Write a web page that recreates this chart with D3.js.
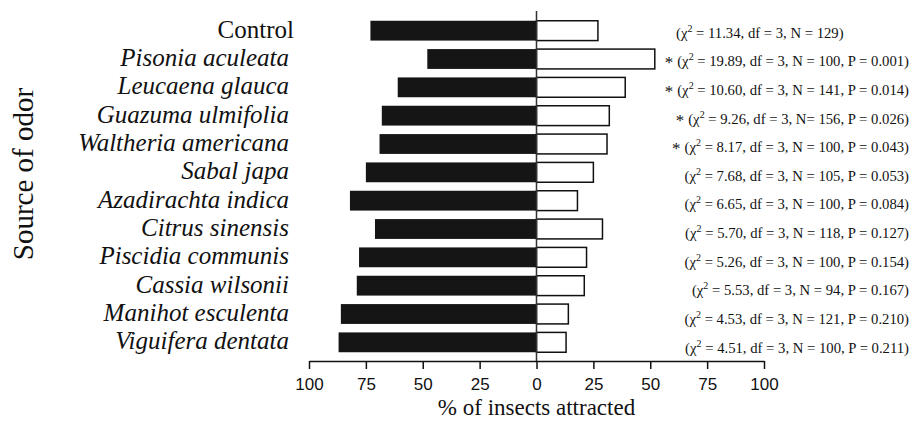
<!doctype html>
<html lang="en">
<head>
  <meta charset="utf-8">
  <title>Source of odor</title>
  <style>
    body { margin: 0; background: #fff; }
    svg { display: block; }
    text { font-family: "Times New Roman", Times, "Liberation Serif", serif; fill: #111; }
    .tick text { font-family: Arial, Helvetica, "Liberation Sans", sans-serif; font-size: 17px; fill: #111; }
    .tick line, .domain { stroke: #111; stroke-width: 1.5; }
    .bar-left { fill: #151515; }
    .bar-right { fill: #fff; stroke: #111; stroke-width: 1.5; }
  </style>
</head>
<body>
  <script src="https://cdn.jsdelivr.net/npm/d3@7"></script>
  <script>
(function() {

var categories = ["Control", "Pisonia aculeata", "Leucaena glauca", "Guazuma ulmifolia",
  "Waltheria americana", "Sabal japa", "Azadirachta indica", "Citrus sinensis",
  "Piscidia communis", "Cassia wilsonii", "Manihot esculenta", "Viguifera dentata"];
// black bars (drawn to the left of zero) and white bars (to the right)
var leftPct  = [73, 48, 61, 68, 69, 75, 82, 71, 78, 79, 86, 87];
var rightPct = [27, 52, 39, 32, 31, 25, 18, 29, 22, 21, 14, 13];
var chi2  = ["11.34", "19.89", "10.60", "9.26", "8.17", "7.68", "6.65", "5.70", "5.26", "5.53", "4.53", "4.51"];
var nVals = ["129", "100", "141", "156", "100", "105", "100", "118", "100", "94", "121", "100"];
var pVals = [null, "0.001", "0.014", "0.026", "0.043", "0.053", "0.084", "0.127", "0.154", "0.167", "0.210", "0.211"];
var xTicks = [-100, -75, -50, -25, 0, 25, 50, 75, 100];

var width = 917, height = 421;

var svg = d3.select("body").append("svg")
    .attr("width", width)
    .attr("height", height);

var x = d3.scaleLinear().domain([-100, 100]).range([309, 764]);
var y = d3.scaleBand().domain(categories).range([16.5, 356.5])
    .paddingInner(0.3).paddingOuter(0.15);
var axisY = 361;

var rows = categories.map(function(c, i) {
  return { name: c, left: leftPct[i], right: rightPct[i], chi: chi2[i], n: nVals[i], p: pVals[i] };
});

// bars
svg.selectAll(".bar-left").data(rows).enter().append("rect")
    .attr("class", "bar-left")
    .attr("x", function(d) { return x(-d.left); })
    .attr("y", function(d) { return y(d.name); })
    .attr("width", function(d) { return x(0) - x(-d.left); })
    .attr("height", y.bandwidth());

svg.selectAll(".bar-right").data(rows).enter().append("rect")
    .attr("class", "bar-right")
    .attr("x", x(0))
    .attr("y", function(d) { return y(d.name); })
    .attr("width", function(d) { return x(d.right) - x(0); })
    .attr("height", y.bandwidth());

// zero line
svg.append("line")
    .attr("x1", x(0)).attr("x2", x(0))
    .attr("y1", 11).attr("y2", axisY)
    .attr("stroke", "#333").attr("stroke-width", 1.5);

// x axis
var xAxis = d3.axisBottom(x).tickValues(xTicks).tickSize(8).tickSizeOuter(0)
    .tickFormat(function(d) { return Math.abs(d); });
var gx = svg.append("g").attr("transform", "translate(0," + axisY + ")").call(xAxis);
gx.selectAll(".tick text").attr("y", 17).attr("dy", "0.71em");

svg.append("text")
    .attr("x", x(0)).attr("y", 415)
    .attr("text-anchor", "middle")
    .style("font-size", "23px")
    .text("% of insects attracted");

// category labels
svg.selectAll(".cat").data(rows).enter().append("text")
    .attr("class", "cat")
    .attr("x", function(d, i) { return i === 0 ? 294 : 289; })
    .attr("y", function(d) { return y(d.name) + y.bandwidth() / 2 + 7; })
    .attr("text-anchor", "end")
    .style("font-size", "25px")
    .style("font-style", function(d, i) { return i === 0 ? "normal" : "italic"; })
    .text(function(d) { return d.name; });

svg.append("text")
    .attr("transform", "translate(33,174) rotate(-90)")
    .attr("text-anchor", "middle")
    .style("font-size", "29px")
    .text("Source of odor");

// statistics
var stats = svg.selectAll(".stat").data(rows).enter().append("text")
    .attr("class", "stat")
    .attr("x", function(d) { return d.p ? 909 : 676; })
    .attr("y", function(d, i) { return y(d.name) + y.bandwidth() / 2 + 7 + i * 0.3; })
    .attr("text-anchor", function(d) { return d.p ? "end" : "start"; })
    .style("font-size", "14.7px");

stats.filter(function(d) { return d.p && +d.p < 0.05; })
  .append("tspan")
    .style("font-size", "17px")
    .attr("dy", 2)
    .text("*");

stats.append("tspan")
    .attr("dx", function(d) { return d.p && +d.p < 0.05 ? 4 : 0; })
    .attr("dy", function(d) { return d.p && +d.p < 0.05 ? -2 : 0; })
    .text("(\u03c7");
stats.append("tspan")
    .style("font-size", "10px")
    .attr("dy", -6)
    .text("2");
stats.append("tspan")
    .attr("dy", 6)
    .text(function(d, i) {
      var s = " = " + d.chi + ", df = 3, N" + (i === 3 ? "= " : " = ") + d.n;
      if (d.p) s += ", P = " + d.p;
      return s + ")";
    });

})();
  </script>
</body>
</html>
